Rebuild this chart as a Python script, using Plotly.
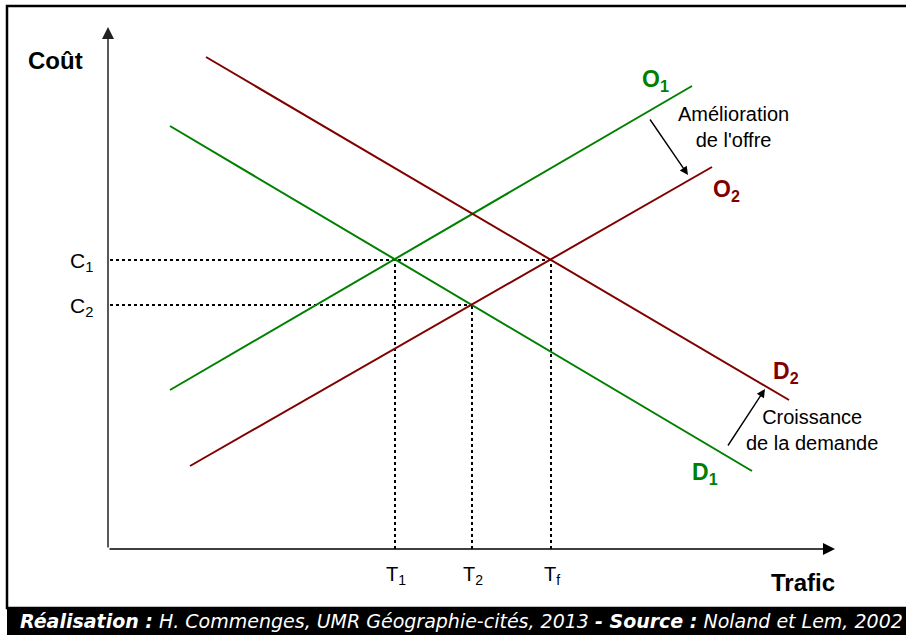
import plotly.graph_objects as go

# ---- data (diagram units: x to the right, y upward) ----
O1_x = [170, 692]; O1_y = [245, 549]
O2_x = [190, 712]; O2_y = [169, 468]
D1_x = [170, 752]; D1_y = [509, 164]
D2_x = [206, 789]; D2_y = [578, 235]

T_vals = [395, 472, 551]          # T1, T2, Tf
T_labels = ["T<sub>1</sub>", "T<sub>2</sub>", "T<sub>f</sub>"]
C_vals = [375, 330]               # C1, C2
C_labels = ["C<sub>1</sub>", "C<sub>2</sub>"]
C_reach = [551, 472]              # x where each price line meets its equilibrium

origin = (108, 86)
x_end = 835
y_end = 608

GREEN = "#008000"
RED = "#800000"
FONT = "Liberation Sans"

fig = go.Figure()

def line(x, y, color, width=2, dash=None):
    fig.add_trace(go.Scatter(x=x, y=y, mode="lines",
                             line=dict(color=color, width=width, dash=dash),
                             hoverinfo="skip", showlegend=False))

# dotted guides
for c, xr in zip(C_vals, C_reach):
    line([origin[0] + 2, xr], [c, c], "black", 2, "dot")
for t, c in zip(T_vals, [C_vals[0], C_vals[1], C_vals[0]]):
    line([t, t], [origin[1], c], "black", 2, "dot")

line(O1_x, O1_y, GREEN)
line(D1_x, D1_y, GREEN)
line(O2_x, O2_y, RED)
line(D2_x, D2_y, RED)

ann = []
# axes with arrows
ann.append(dict(x=x_end, y=origin[1], ax=origin[0], ay=origin[1], xref="x", yref="y",
                axref="x", ayref="y", showarrow=True, arrowhead=2, arrowsize=1.6,
                arrowwidth=1.5, arrowcolor="black", text=""))
ann.append(dict(x=origin[0], y=y_end, ax=origin[0], ay=origin[1], xref="x", yref="y",
                axref="x", ayref="y", showarrow=True, arrowhead=2, arrowsize=1.6,
                arrowwidth=1.5, arrowcolor="#222", text=""))
# annotation arrows
ann.append(dict(x=688, y=460, ax=649, ay=517, xref="x", yref="y", axref="x", ayref="y",
                showarrow=True, arrowhead=2, arrowsize=1.2, arrowwidth=1.4,
                arrowcolor="black", text=""))
ann.append(dict(x=765, y=246, ax=727, ay=188, xref="x", yref="y", axref="x", ayref="y",
                showarrow=True, arrowhead=2, arrowsize=1.2, arrowwidth=1.4,
                arrowcolor="black", text=""))

def txt(x, y, s, size, color="black", xanchor="center", yanchor="middle", bold=False, family=FONT):
    ann.append(dict(x=x, y=y, xref="x", yref="y", text=("<b>%s</b>" % s) if bold else s,
                    showarrow=False, xanchor=xanchor, yanchor=yanchor,
                    font=dict(family=family, size=size, color=color)))

txt(55, 575, "Coût", 24, bold=True)
txt(837, 53, "Trafic", 24, xanchor="right", bold=True)
for c, lab in zip(C_vals, C_labels):
    txt(95, c - 2, lab, 21, xanchor="right")
for t, lab in zip(T_vals, T_labels):
    txt(t + 1, 60, lab, 20)
txt(655, 555, "O<sub>1</sub>", 23, GREEN, bold=True)
txt(726, 445, "O<sub>2</sub>", 23, RED, bold=True)
txt(705, 162, "D<sub>1</sub>", 23, GREEN, bold=True)
txt(786, 263, "D<sub>2</sub>", 23, RED, bold=True)
txt(733, 508, "Amélioration<br>de l'offre", 20)
txt(812, 205, "Croissance<br>de la demande", 20)

# footer
txt(461, 14,
    "<b><i>Réalisation :</i></b><i> H. Commenges, UMR Géographie-cités, 2013 </i>"
    "<b><i>- Source :</i></b><i> Noland et Lem, 2002</i>",
    19, "white", family="DejaVu Sans")

shapes = [
    dict(type="rect", xref="x", yref="y", x0=7, x1=912, y0=27, y1=629,
         line=dict(color="black", width=2.5), fillcolor="rgba(0,0,0,0)", layer="below"),
    dict(type="rect", xref="x", yref="y", x0=7, x1=912, y0=0, y1=27,
         line=dict(width=0), fillcolor="black", layer="below"),
]

fig.update_layout(
    width=906, height=635, margin=dict(l=0, r=0, t=0, b=0),
    paper_bgcolor="white", plot_bgcolor="white",
    xaxis=dict(range=[0, 906], visible=False, fixedrange=True),
    yaxis=dict(range=[0, 635], visible=False, fixedrange=True),
    annotations=ann, shapes=shapes, showlegend=False,
)

fig.write_html("out.html", config=dict(displayModeBar=False),
               post_script="document.body.style.margin='0';document.body.style.overflow='hidden';")
